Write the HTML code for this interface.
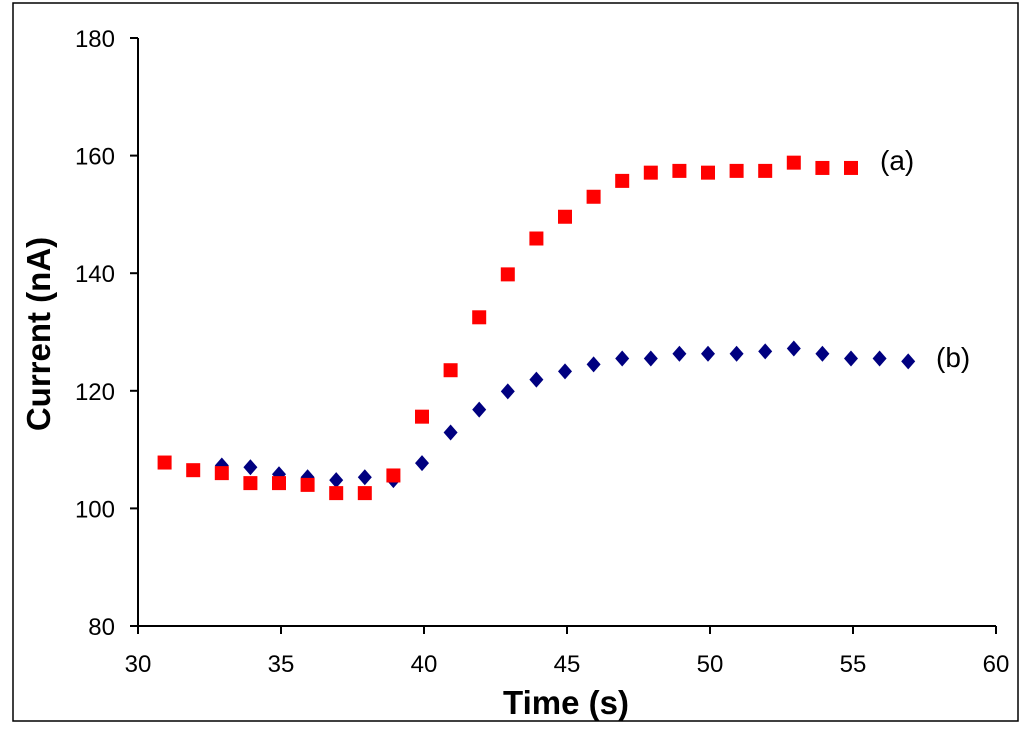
<!DOCTYPE html>
<html><head><meta charset="utf-8"><style>
html,body{margin:0;padding:0;background:#fff;width:1024px;height:735px;overflow:hidden}
svg text{font-family:"Liberation Sans",Arial,sans-serif}
</style></head><body>
<svg id="chart" width="1024" height="735">
<rect x="13" y="3" width="1005" height="718" fill="#fff" stroke="#000" stroke-width="1.5"/>
<g id="axes"></g>
<g id="marks"></g>
<text x="880" y="170" font-size="28">(a)</text>
<text x="936" y="367" font-size="28">(b)</text>
<text x="566" y="714" font-size="33" font-weight="bold" text-anchor="middle">Time (s)</text>
<text transform="translate(50,334) rotate(-90)" font-size="33" font-weight="bold" text-anchor="middle">Current (nA)</text>
</svg>
<script>
const xTicks=[30,35,40,45,50,55,60];
const yTicks=[80,100,120,140,160,180];
const xA=[31,32,33,34,35,36,37,38,39,40,41,42,43,44,45,46,47,48,49,50,51,52,53,54,55];
const yA=[107.8,106.5,106,104.3,104.3,104,102.6,102.6,105.6,115.6,123.5,132.5,139.8,145.9,149.6,153,155.7,157.1,157.4,157.1,157.4,157.4,158.8,157.9,157.9];
const xB=[33,34,35,36,37,38,39,40,41,42,43,44,45,46,47,48,49,50,51,52,53,54,55,56,57];
const yB=[107.3,107,105.8,105.3,104.8,105.3,104.8,107.7,112.9,116.8,119.9,121.9,123.3,124.5,125.5,125.5,126.3,126.3,126.3,126.7,127.2,126.3,125.5,125.5,125];
const X0=138,X1=996,Y0=626,Y1=38;
const sx=v=>X0+(v-30)/30*(X1-X0);
const sy=v=>Y0-(v-80)/100*(Y0-Y1);
const NS="http://www.w3.org/2000/svg";
const axes=document.getElementById('axes'),marks=document.getElementById('marks');
function mk(t,a,p){const e=document.createElementNS(NS,t);for(const k in a)e.setAttribute(k,a[k]);p.appendChild(e);return e;}
let e=mk('line',{x1:X0,y1:Y0,x2:X1,y2:Y0,stroke:'#000','stroke-width':2},axes);


e=mk('line',{x1:X0,y1:Y0,x2:X0,y2:Y1,stroke:'#000','stroke-width':2},axes);


xTicks.forEach(v=>{
 mk('line',{x1:sx(v),y1:Y0,x2:sx(v),y2:Y0+8,stroke:'#000','stroke-width':2},axes);
 const t=mk('text',{x:sx(v),y:Y0+46,'font-size':24,'text-anchor':'middle'},axes);t.textContent=v;
 
 
});
yTicks.forEach(v=>{
 mk('line',{x1:X0-8,y1:sy(v),x2:X0,y2:sy(v),stroke:'#000','stroke-width':2},axes);
 const t=mk('text',{x:X0-23,y:sy(v)+9,'font-size':24,'text-anchor':'end'},axes);t.textContent=v;
 
 
});
xB.forEach((v,i)=>{const cx=sx(v)-2,cy=sy(yB[i]);
 const p=mk('polygon',{points:`${cx},${cy-8} ${cx+7},${cy} ${cx},${cy+8} ${cx-7},${cy}`,fill:'#000080'},marks);
 
 
});
xA.forEach((v,i)=>{const cx=sx(v)-2,cy=sy(yA[i]);
 const r=mk('rect',{x:cx-7,y:cy-7,width:14,height:14,fill:'#ff0000'},marks);
 
 
});
</script>
</body></html>
